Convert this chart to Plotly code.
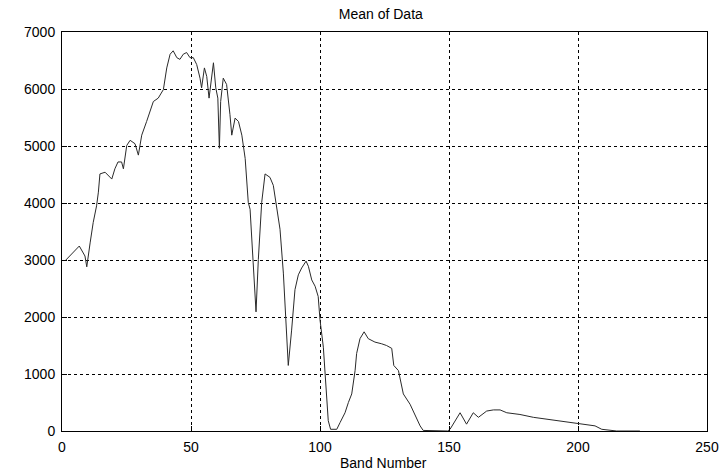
import plotly.graph_objects as go

band = [1.5, 3.1, 6.7, 8.9, 9.6, 10.9, 12.1, 13.4, 14.1, 14.7, 16.7, 19.3, 20.5, 21.7, 23.1, 23.8,
        25.1, 26.4, 28.3, 29.6, 30.9, 32.8, 34.1, 35.4, 37.3, 39.3, 40.6, 41.9, 43.1, 44.5, 45.7,
        47.0, 48.3, 49.6, 50.9, 52.2, 53.5, 54.1, 55.2, 56.1, 57.0, 58.0, 58.7, 59.6, 60.4, 61.0,
        61.5, 62.5, 63.8, 65.1, 65.8, 67.1, 68.4, 69.7, 71.0, 72.2, 72.9, 74.1, 75.2, 76.1, 77.4,
        78.7, 80.6, 81.9, 83.2, 84.5, 85.8, 87.1, 87.7, 89.0, 90.3, 91.6, 92.9, 94.6, 95.5, 96.8,
        98.1, 99.3, 100.0, 101.3, 101.9, 102.6, 103.2, 104.1, 106.5, 107.8, 109.7, 111.0, 112.3,
        113.6, 114.2, 115.5, 117.1, 118.7, 121.3, 123.9, 125.8, 127.8, 128.6, 130.4, 132.3, 134.9,
        136.8, 138.8, 140.0, 145.0, 149.5, 150.4, 151.7, 154.3, 156.8, 159.4, 161.4, 162.7, 164.6,
        167.2, 169.8, 172.4, 177.5, 182.7, 187.9, 193.0, 198.2, 203.4, 206.6, 209.2, 215.0, 224.0]
mean = [3000, 3070, 3245, 3070, 2880, 3300, 3660, 3950, 4190, 4510, 4540, 4420, 4600, 4720, 4720, 4600,
        5010, 5100, 5040, 4840, 5190, 5430, 5600, 5780, 5840, 5990, 6370, 6610, 6670, 6550, 6520,
        6610, 6640, 6550, 6550, 6430, 6190, 6020, 6370, 6220, 5840, 6260, 6460, 6020, 5840, 4960,
        5780, 6190, 6080, 5550, 5190, 5490, 5430, 5190, 4780, 4010, 3890, 2950, 2090, 3010, 4010,
        4510, 4450, 4310, 3950, 3540, 2770, 1710, 1150, 1770, 2480, 2740, 2860, 2980, 2890, 2650,
        2540, 2360, 1950, 1470, 1000, 590, 180, 30, 30, 150, 320, 500, 650,
        1060, 1360, 1620, 1740, 1620, 1560, 1530, 1500, 1450, 1150, 1060, 650, 470,
        290, 90, 10, 0, 0, 30, 120, 320, 120, 320, 240, 290, 350,
        370, 370, 320, 290, 240, 210, 170, 150, 120, 90, 30, 0, 0]

x_ticks = [0, 50, 100, 150, 200, 250]
y_ticks = [0, 1000, 2000, 3000, 4000, 5000, 6000, 7000]

font_family = "Liberation Sans, Arial, sans-serif"

fig = go.Figure()
fig.add_trace(go.Scatter(x=band, y=mean, mode="lines",
                         line=dict(color="#2a2a2a", width=1), showlegend=False))

axis_common = dict(showgrid=True, gridcolor="black", griddash="dot", gridwidth=1,
                   showline=True, linecolor="black", linewidth=1, mirror=True,
                   ticks="inside", ticklen=5, tickcolor="black", zeroline=False,
                   automargin=False, ticklabelstandoff=3,
                   tickfont=dict(family=font_family, size=14, color="black"))

fig.update_layout(
    width=724, height=475,
    paper_bgcolor="white", plot_bgcolor="white",
    margin=dict(l=62, r=17, t=32, b=44, autoexpand=False),
    title=dict(text="Mean of Data", x=0.526, xanchor="center", y=1 - 14 / 475, yanchor="middle",
               font=dict(family=font_family, size=14, color="black")),
    xaxis=dict(range=[0, 250], tickvals=x_ticks, ticktext=[str(v) for v in x_ticks],
               **axis_common),
    yaxis=dict(range=[0, 7000], tickvals=y_ticks, ticktext=[str(v) for v in y_ticks],
               **axis_common),
    annotations=[dict(text="Band Number", xref="paper", yref="paper", x=0.498, y=-0.080,
                      xanchor="center", yanchor="middle", showarrow=False,
                      font=dict(family=font_family, size=14, color="black"))],
)

fig.write_html("out.html", config={"displayModeBar": False},
               post_script="document.body.style.margin='0';document.body.style.overflow='hidden';")
